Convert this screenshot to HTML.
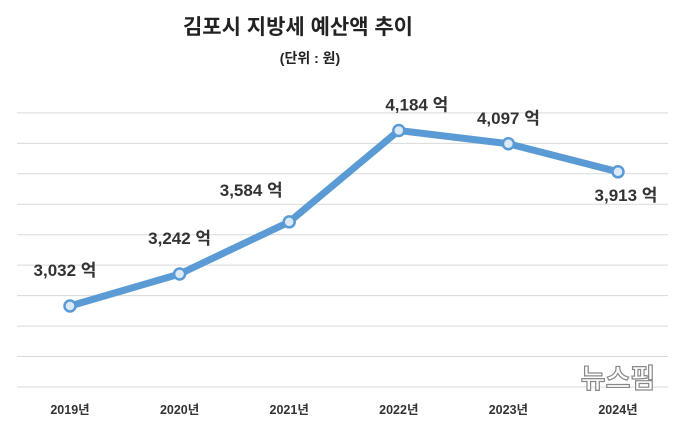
<!DOCTYPE html>
<html><head><meta charset="utf-8">
<style>
body{margin:0;background:#fff;}
svg{display:block;font-family:"Liberation Sans","Noto Sans CJK KR",sans-serif;}
</style></head>
<body>
<svg width="680" height="422" viewBox="0 0 680 422">
<text x="298" y="34" text-anchor="middle" font-size="21" font-weight="bold" fill="#222">김포시 지방세 예산액 추이</text>
<text x="310" y="63" text-anchor="middle" font-size="14" font-weight="bold" fill="#222">(단위 : 원)</text>
<g id="grid"></g>
<g id="xlabels"></g>
<g id="series"></g>
<text x="618" y="388" text-anchor="middle" font-size="27" font-weight="bold" fill="#fff" stroke="#888" stroke-width="1.2">뉴스핌</text>
</svg>
<script>
const categories=["2019년","2020년","2021년","2022년","2023년","2024년"];
const values=[3032,3242,3584,4184,4097,3913];
const valueLabels=["3,032 억","3,242 억","3,584 억","4,184 억","4,097 억","3,913 억"];
const gridTicks=[2500,2700,2900,3100,3300,3500,3700,3900,4100,4300];
const NS="http://www.w3.org/2000/svg";
function y(v){return 387-(v-2500)*0.1523;}
function x(i){return 70+i*109.6;}
const grid=document.getElementById('grid'),xl=document.getElementById('xlabels'),se=document.getElementById('series');
gridTicks.forEach(t=>{const l=document.createElementNS(NS,'line');


l.setAttribute('x1',17);l.setAttribute('x2',668);l.setAttribute('y1',y(t));l.setAttribute('y2',y(t));l.setAttribute('stroke','#d9d9d9');l.setAttribute('stroke-width','1');grid.appendChild(l);});
categories.forEach((c,i)=>{const t=document.createElementNS(NS,'text');


t.setAttribute('x',x(i));t.setAttribute('y',414);t.setAttribute('text-anchor','middle');t.setAttribute('font-size','12.5');t.setAttribute('font-weight','bold');t.setAttribute('fill','#333');t.textContent=c;xl.appendChild(t);});
const p=document.createElementNS(NS,'polyline');


p.setAttribute('points',values.map((v,i)=>x(i)+','+y(v)).join(' '));p.setAttribute('fill','none');p.setAttribute('stroke','#5b9bd5');p.setAttribute('stroke-width','7');p.setAttribute('stroke-linejoin','round');se.appendChild(p);
const offs=[[-5,-30],[0,-30],[-38,-26],[18,-20],[0,-20],[8,29]];
values.forEach((v,i)=>{const c=document.createElementNS(NS,'circle');


c.setAttribute('cx',x(i));c.setAttribute('cy',y(v));c.setAttribute('r',5.5);c.setAttribute('fill','#dce9f6');c.setAttribute('stroke','#5b9bd5');c.setAttribute('stroke-width','2.5');se.appendChild(c);
const t=document.createElementNS(NS,'text');


t.setAttribute('x',x(i)+offs[i][0]);t.setAttribute('y',y(v)+offs[i][1]);t.setAttribute('text-anchor','middle');t.setAttribute('font-size','17');t.setAttribute('font-weight','bold');t.setAttribute('fill','#333');t.textContent=valueLabels[i];se.appendChild(t);});
</script>
</body></html>
